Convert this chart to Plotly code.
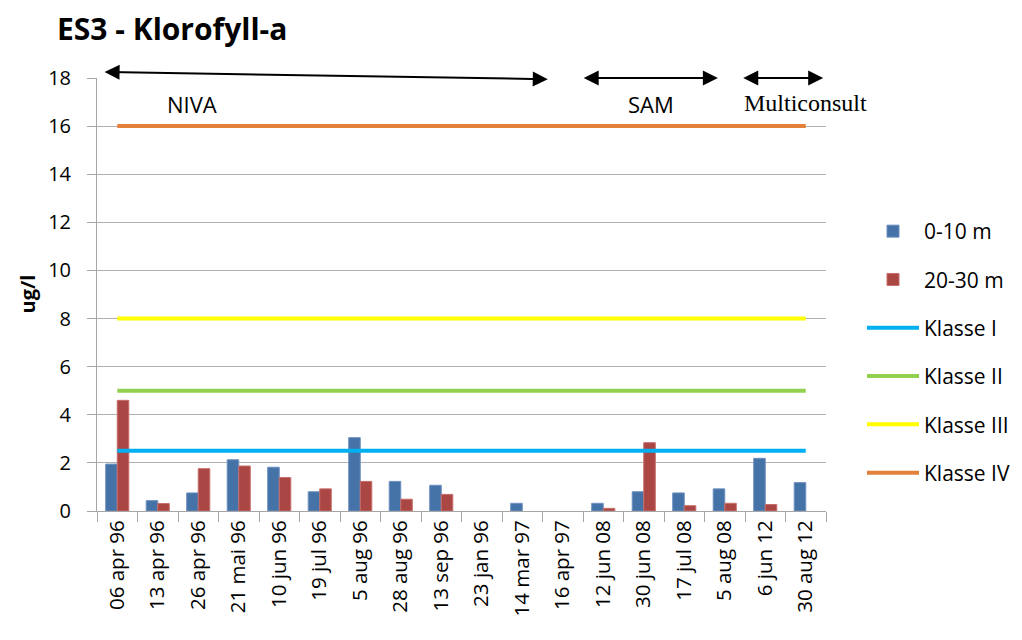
import plotly.graph_objects as go

# sampling dates (category axis)
dates = [
    "06 apr 96", "13 apr 96", "26 apr 96", "21 mai 96", "10 jun 96", "19 jul 96",
    "5 aug 96", "28 aug 96", "13 sep 96", "23 jan 96", "14 mar 97", "16 apr 97",
    "12 jun 08", "30 jun 08", "17 jul 08", "5 aug 08", "6 jun 12", "30 aug 12",
]

# chlorophyll-a, ug/l
surface_0_10 = [1.95, 0.43, 0.75, 2.13, 1.82, 0.80, 3.05, 1.23, 1.07, None, 0.32, None,
                0.32, 0.80, 0.75, 0.92, 2.19, 1.18]
depth_20_30 = [4.60, 0.31, 1.76, 1.87, 1.39, 0.92, 1.23, 0.49, 0.69, None, None, None,
               0.11, 2.84, 0.22, 0.32, 0.27, None]

# class limits
klasse = {
    "Klasse I": 2.5,
    "Klasse II": 5,
    "Klasse III": 8,
    "Klasse IV": 16,
}
klasse_colors = {
    "Klasse I": "#00b0f0",
    "Klasse II": "#92d050",
    "Klasse III": "#ffff00",
    "Klasse IV": "#e3803a",
}

FONT = "'Open Sans', Lato, 'Liberation Sans', Arial, sans-serif"
SERIF = "'Liberation Serif', 'Times New Roman', serif"
OFF = 8  # page body margin in the browser
W, H = 1022 - OFF, 640 - OFF

fig = go.Figure()

fig.add_trace(go.Bar(x=dates, y=surface_0_10, name="0-10 m",
                     marker=dict(color="#4572a7", line=dict(color="#6d8fc0", width=1)),
                     legendgroup="a"))
fig.add_trace(go.Bar(x=dates, y=depth_20_30, name="20-30 m",
                     marker=dict(color="#aa4643", line=dict(color="#c66e6b", width=1)),
                     legendgroup="b"))

for i, (name, val) in enumerate(klasse.items()):
    fig.add_trace(go.Scatter(x=dates, y=[val] * len(dates), mode="lines", name=name,
                             line=dict(color=klasse_colors[name], width=4),
                             legendgroup="k%d" % i))

# project period arrows (category index positions): label, x0, x1, y0, y1, text x, text y
periods = [
    ("NIVA", -0.35, 10.63, 18.25, 17.95, 1.85, 16.9),
    ("SAM", 11.48, 14.83, 18.0, 18.0, 13.18, 16.9),
    ("Multiconsult", 15.42, 17.43, 18.0, 18.0, 17.0, 16.95),
]
for label, x0, x1, y0, y1, tx, ty in periods:
    fig.add_annotation(x=x1, y=y1, ax=x0, ay=y0, xref="x", yref="y", axref="x", ayref="y",
                       text="", showarrow=True, arrowhead=2, startarrowhead=2,
                       arrowside="end+start", arrowsize=1.5, startarrowsize=1.5,
                       arrowwidth=2, arrowcolor="black", standoff=0, startstandoff=0)
    serif = label == "Multiconsult"
    fig.add_annotation(x=tx, y=ty, xref="x", yref="y", text=label, showarrow=False,
                       font=dict(size=24 if serif else 22, color="black",
                                 family=SERIF if serif else FONT))

fig.add_annotation(x=(27 - 97) / 729, y=0.5, xref="paper", yref="paper", text="<b>ug/l</b>",
                   xanchor="center", yanchor="middle",
                   textangle=-90, showarrow=False, font=dict(size=20, color="black", family=FONT))

fig.update_layout(
    width=W,
    height=H,
    margin=dict(l=97 - OFF, r=196, t=78 - OFF, b=129),
    paper_bgcolor="white",
    plot_bgcolor="white",
    barmode="group",
    bargap=0.43,
    bargroupgap=0,
    font=dict(family=FONT, size=19, color="black"),
    title=dict(text="<b>ES3 - Klorofyll-a</b>", x=(57 - OFF) / W, xref="container",
               xanchor="left", y=1 - (29 - OFF) / H, yref="container", yanchor="middle",
               font=dict(size=30, color="black", family=FONT)),
    legend=dict(x=(862 - OFF) / W, y=1 - (211 - OFF) / H,
                xref="container", yref="container",
                xanchor="left", yanchor="top", font=dict(size=21, color="black"),
                tracegroupgap=18, itemwidth=52, bgcolor="rgba(0,0,0,0)"),
    showlegend=True,
)

fig.update_xaxes(type="category", range=[-0.5, len(dates) - 0.5], tickangle=-90,
                 showline=True, linecolor="#a6a6a6",
                 ticks="outside", tickson="boundaries", ticklen=10, tickcolor="#a6a6a6",
                 showgrid=False, tickfont=dict(size=20.5))
fig.update_yaxes(range=[0, 18], dtick=2, showline=True, linecolor="#a6a6a6",
                 ticks="outside", ticklen=9, tickcolor="#a6a6a6", ticklabelstandoff=12,
                 showgrid=True, gridcolor="#b0b0b0", gridwidth=1, zeroline=False,
                 tickfont=dict(size=20))

fig.write_html("out.html")
